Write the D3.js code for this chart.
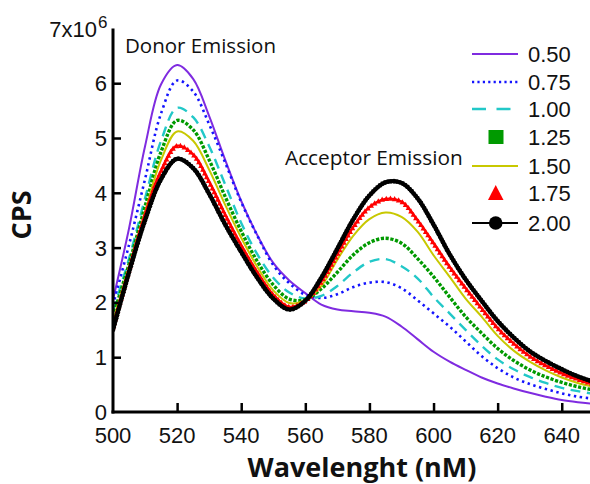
<!DOCTYPE html>
<html><head><meta charset="utf-8">
<script src="https://cdn.jsdelivr.net/npm/d3@7"></script>
<style>html,body{margin:0;padding:0;background:#fff;}svg{display:block;}</style>
</head><body>
<svg id="chart" width="590" height="484"></svg>
<script>
// ---- data (values in units of 10^6 CPS) ----
const wavelengths = [500,505,510,515,520,525,530,535,540,545,550,555,560,565,570,575,580,585,590,595,600,605,610,615,620,625,630,635,640,645,650];
const conc = ["0.50","0.75","1.00","1.25","1.50","1.75","2.00"];
const s050 = [2.05,3.35,4.85,5.98,6.33,6.08,5.40,4.60,3.85,3.23,2.72,2.40,2.17,1.96,1.87,1.84,1.81,1.74,1.56,1.33,1.10,0.92,0.77,0.63,0.52,0.43,0.35,0.28,0.22,0.18,0.15];
const s075 = [1.95,3.05,4.25,5.45,6.05,5.85,5.25,4.55,3.83,3.22,2.68,2.35,2.14,2.08,2.15,2.28,2.36,2.37,2.26,2.04,1.80,1.56,1.29,1.02,0.80,0.63,0.51,0.42,0.34,0.28,0.24];
const s100 = [1.85,2.80,3.90,4.95,5.55,5.38,4.85,4.15,3.45,2.88,2.45,2.18,2.07,2.12,2.30,2.55,2.74,2.79,2.66,2.44,2.10,1.80,1.50,1.21,0.96,0.78,0.64,0.53,0.44,0.38,0.33];
const s125 = [1.75,2.70,3.75,4.75,5.32,5.15,4.60,3.93,3.30,2.75,2.32,2.06,2.05,2.25,2.55,2.87,3.09,3.17,3.08,2.80,2.47,2.10,1.74,1.44,1.16,0.94,0.77,0.64,0.54,0.46,0.40];
const s150 = [1.65,2.65,3.65,4.60,5.12,4.95,4.42,3.78,3.18,2.65,2.22,1.99,2.04,2.30,2.78,3.22,3.52,3.64,3.56,3.29,2.86,2.47,2.07,1.74,1.39,1.12,0.92,0.76,0.63,0.53,0.46];
const s175 = [1.55,2.60,3.60,4.40,4.86,4.70,4.20,3.60,3.04,2.55,2.14,1.92,2.03,2.38,2.88,3.38,3.74,3.89,3.84,3.50,3.08,2.65,2.26,1.89,1.53,1.25,1.02,0.85,0.71,0.60,0.51];
const s200 = [1.50,2.55,3.50,4.25,4.62,4.45,3.98,3.42,2.92,2.45,2.07,1.87,2.03,2.45,2.98,3.52,3.95,4.19,4.18,3.90,3.42,2.88,2.42,2.03,1.66,1.36,1.11,0.93,0.78,0.65,0.55];
const xTicks = [500,520,540,560,580,600,620,640];
const yTicks = [0,1,2,3,4,5,6];

const seriesValues = [s050,s075,s100,s125,s150,s175,s200];
const styles = [
  {color:"#7f2be0", type:"solid"},
  {color:"#1414ff", type:"dot"},
  {color:"#22c8c8", type:"dash"},
  {color:"#009a00", type:"square"},
  {color:"#c8c800", type:"solid"},
  {color:"#ff0000", type:"triangle"},
  {color:"#000000", type:"circle"}
];

const svg = d3.select("#chart");
const x = d3.scaleLinear().domain([500,650]).range([113,593.8]);
const y = d3.scaleLinear().domain([0,7]).range([412,28.4]);

svg.append("clipPath").attr("id","plotclip").append("rect")
  .attr("x",113).attr("y",20).attr("width",480).attr("height",392);

const line = d3.line().x((d,i)=>x(wavelengths[i])).y(d=>y(d)).curve(d3.curveCatmullRom.alpha(0.5));

const plot = svg.append("g").attr("clip-path","url(#plotclip)");

seriesValues.forEach((vals,k)=>{
  const st = styles[k];
  const p = plot.append("path").datum(vals).attr("d",line).attr("fill","none");
  if (st.type==="solid") p.attr("stroke",st.color).attr("stroke-width",2);
  else if (st.type==="dot") p.attr("stroke",st.color).attr("stroke-width",2.6).attr("stroke-dasharray","2.4,3.6");
  else if (st.type==="dash") p.attr("stroke",st.color).attr("stroke-width",2.4).attr("stroke-dasharray","10,6.5");
  else if (st.type==="square") p.attr("stroke",st.color).attr("stroke-width",3.4).attr("stroke-dasharray","3.2,1.6");
  else if (st.type==="triangle") {
    p.attr("stroke",st.color).attr("stroke-width",2.2);
    const node = p.node(); const L = node.getTotalLength();
    const g = plot.append("g").attr("fill",st.color);
    for (let s=0; s<=L; s+=4.2) {
      const pt = node.getPointAtLength(s);
      g.append("path").attr("d",`M${pt.x},${pt.y-3}L${pt.x+2.8},${pt.y+2.2}L${pt.x-2.8},${pt.y+2.2}Z`);
    }
  } else if (st.type==="circle") {
    p.attr("stroke",st.color).attr("stroke-width",3.6);
    const node = p.node(); const L = node.getTotalLength();
    const g = plot.append("g").attr("fill",st.color);
    for (let s=0; s<=L; s+=3) {
      const pt = node.getPointAtLength(s);
      g.append("circle").attr("cx",pt.x).attr("cy",pt.y).attr("r",2.4);
    }
  }
});

// axes
const axisColor = "#000";
const yAxis = svg.append("g").attr("transform","translate(113,0)")
  .call(d3.axisRight(y).tickValues(yTicks.slice(1)).tickSize(8).tickFormat(""));
yAxis.select(".domain").remove();
yAxis.selectAll("line").attr("stroke",axisColor).attr("stroke-width",2.5);
const xAxis = svg.append("g").attr("transform","translate(0,412)")
  .call(d3.axisTop(x).tickValues(xTicks.slice(1)).tickSize(9).tickFormat(""));
xAxis.select(".domain").remove();
xAxis.selectAll("line").attr("stroke",axisColor).attr("stroke-width",2.5);

svg.append("line").attr("x1",113).attr("x2",113).attr("y1",y(7)).attr("y2",413.5).attr("stroke",axisColor).attr("stroke-width",3);
svg.append("line").attr("x1",111.5).attr("x2",590).attr("y1",412).attr("y2",412).attr("stroke",axisColor).attr("stroke-width",3);

const tickFont = "'Liberation Sans', Arial, sans-serif";
svg.append("g").selectAll("text").data(yTicks).join("text")
  .attr("x",107).attr("y",d=>y(d)+8).attr("text-anchor","end")
  .attr("font-family",tickFont).attr("font-size",22).attr("fill","#111").text(d=>d);
svg.append("g").selectAll("text").data(xTicks).join("text")
  .attr("x",d=>x(d)).attr("y",443).attr("text-anchor","middle")
  .attr("font-family",tickFont).attr("font-size",22).attr("fill","#111").text(d=>d);

svg.append("text").attr("x",97).attr("y",37).attr("text-anchor","end")
  .attr("font-family",tickFont).attr("font-size",22).attr("fill","#111").text("7x10");
svg.append("text").attr("x",98).attr("y",28)
  .attr("font-family",tickFont).attr("font-size",17).attr("fill","#111").text("6");

// titles
svg.append("text").attr("x",362).attr("y",477).attr("text-anchor","middle")
  .attr("font-family","'Open Sans', sans-serif").attr("font-weight","bold").attr("font-size",27).attr("fill","#111")
  .text("Wavelenght (nM)");
svg.append("text").attr("transform","translate(31,215) rotate(-90)").attr("text-anchor","middle")
  .attr("font-family","'Open Sans', sans-serif").attr("font-weight","bold").attr("font-size",27).attr("fill","#111")
  .text("CPS");

svg.append("text").attr("x",125).attr("y",53)
  .attr("font-family","'Open Sans', sans-serif").attr("font-size",20.5).attr("fill","#111").text("Donor Emission");
svg.append("text").attr("x",285).attr("y",165)
  .attr("font-family","'Open Sans', sans-serif").attr("font-size",20.8).attr("fill","#111").text("Acceptor Emission");

// legend
const legY = [54,82,109,137,166,193,223];
const lg = svg.append("g");
conc.forEach((c,k)=>{
  const st = styles[k]; const yy = legY[k];
  if (st.type==="solid") lg.append("line").attr("x1",472).attr("x2",518).attr("y1",yy).attr("y2",yy).attr("stroke",st.color).attr("stroke-width",2);
  else if (st.type==="dot") lg.append("line").attr("x1",472).attr("x2",518).attr("y1",yy).attr("y2",yy).attr("stroke",st.color).attr("stroke-width",2.4).attr("stroke-dasharray","2.2,3.2");
  else if (st.type==="dash") lg.append("line").attr("x1",472).attr("x2",518).attr("y1",yy).attr("y2",yy).attr("stroke",st.color).attr("stroke-width",2.4).attr("stroke-dasharray","14,10.5");
  else if (st.type==="square") lg.append("rect").attr("x",488.5).attr("y",yy-7).attr("width",15).attr("height",14).attr("fill",st.color);
  else if (st.type==="triangle") lg.append("path").attr("d",`M495.7,${yy-8}L503.5,${yy+7}L488,${yy+7}Z`).attr("fill",st.color);
  else if (st.type==="circle") {
    lg.append("line").attr("x1",472).attr("x2",518).attr("y1",yy).attr("y2",yy).attr("stroke",st.color).attr("stroke-width",2.2);
    lg.append("circle").attr("cx",495.7).attr("cy",yy).attr("r",6.8).attr("fill",st.color);
  }
  lg.append("text").attr("x",528).attr("y",yy+8).attr("font-family",tickFont).attr("font-size",22).attr("fill","#111").text(c);
});
</script>
</body></html>
